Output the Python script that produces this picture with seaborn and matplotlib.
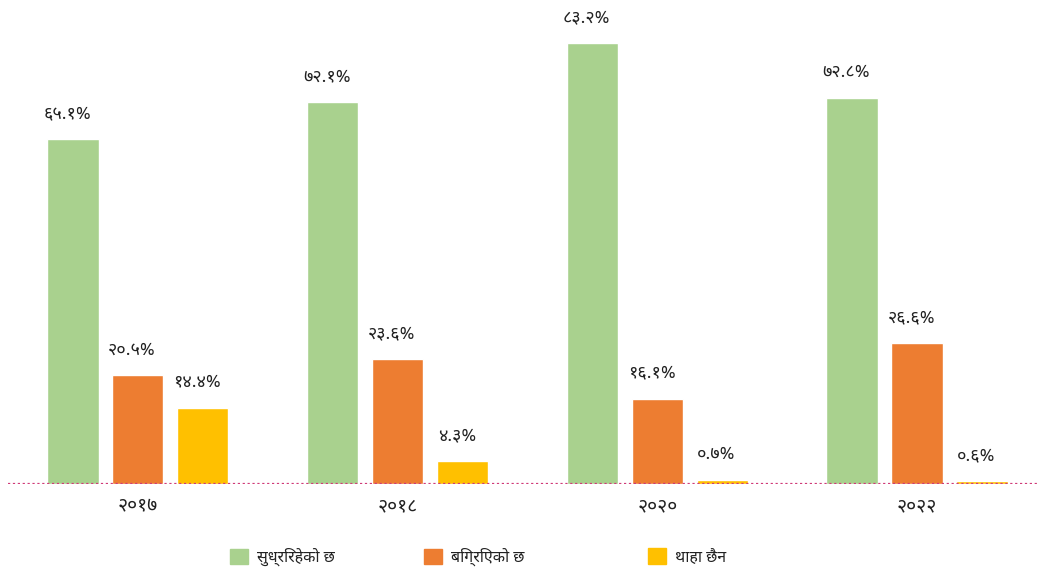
import matplotlib
matplotlib.use("Agg")
import matplotlib.pyplot as plt
import pandas as pd
import seaborn as sns

# data
years = ["२०१७", "२०१८", "२०२०", "२०२२"]
categories = ["सुध्रिरहेको छ", "बिग्रिएको छ", "थाहा छैन"]
improving = [65.1, 72.1, 83.2, 72.8]
worsening = [20.5, 23.6, 16.1, 26.6]
dont_know = [14.4, 4.3, 0.7, 0.6]
colors = ["#A9D18E", "#ED7D31", "#FFC000"]

sns.set_style("white")
plt.rcParams["font.family"] = ["Noto Sans Devanagari", "DejaVu Sans"]

df = pd.DataFrame({
    "year": years * 3,
    "group": [categories[0]] * 4 + [categories[1]] * 4 + [categories[2]] * 4,
    "value": improving + worsening + dont_know,
})

fig = plt.figure(figsize=(10.38, 5.74), dpi=100)
ax = fig.add_axes([8 / 1038, 1 - 484 / 574, 1030 / 1038, 484 / 574])
sns.barplot(data=df, x="year", y="value", hue="group", palette=colors,
            width=0.75, gap=0.21, saturation=1, ax=ax, legend=False)

# value labels, devanagari digits
digits = str.maketrans("0123456789", "०१२३४५६७८९")
for cont in ax.containers:
    for bar in cont:
        h = bar.get_height()
        ax.text(bar.get_x() + bar.get_width() / 2 - 0.022, h + 4.9,
                f"{h:.1f}%".translate(digits), ha="center", va="center",
                fontsize=13, color="#222222")

ax.set_xlim(-0.5, 3.466)
ax.set_ylim(0, 91.3)
ax.set_xlabel("")
ax.set_ylabel("")
ax.set_yticks([])
ax.tick_params(axis="x", length=0, labelsize=14, pad=9, labelcolor="#222222")
for s in ax.spines.values():
    s.set_visible(False)
ax.axhline(0, color="#D03A78", lw=1.6, ls=(0, (1, 1.2)), zorder=5)

# legend entries placed one by one (uneven spacing as in the reference)
legend_x = [230, 424, 648]
for c, lab, xp in zip(colors, categories, legend_x):
    leg = fig.legend([plt.Rectangle((0, 0), 1, 1, color=c)], [lab], loc="center left",
                     bbox_to_anchor=(xp / 1038, 1 - 557 / 574), frameon=False,
                     fontsize=11.5, handlelength=1.1, handleheight=1.1,
                     handletextpad=0.6, borderpad=0, borderaxespad=0)
    for t in leg.get_texts():
        t.set_color("#222222")

fig.savefig("out.png", dpi=100)
